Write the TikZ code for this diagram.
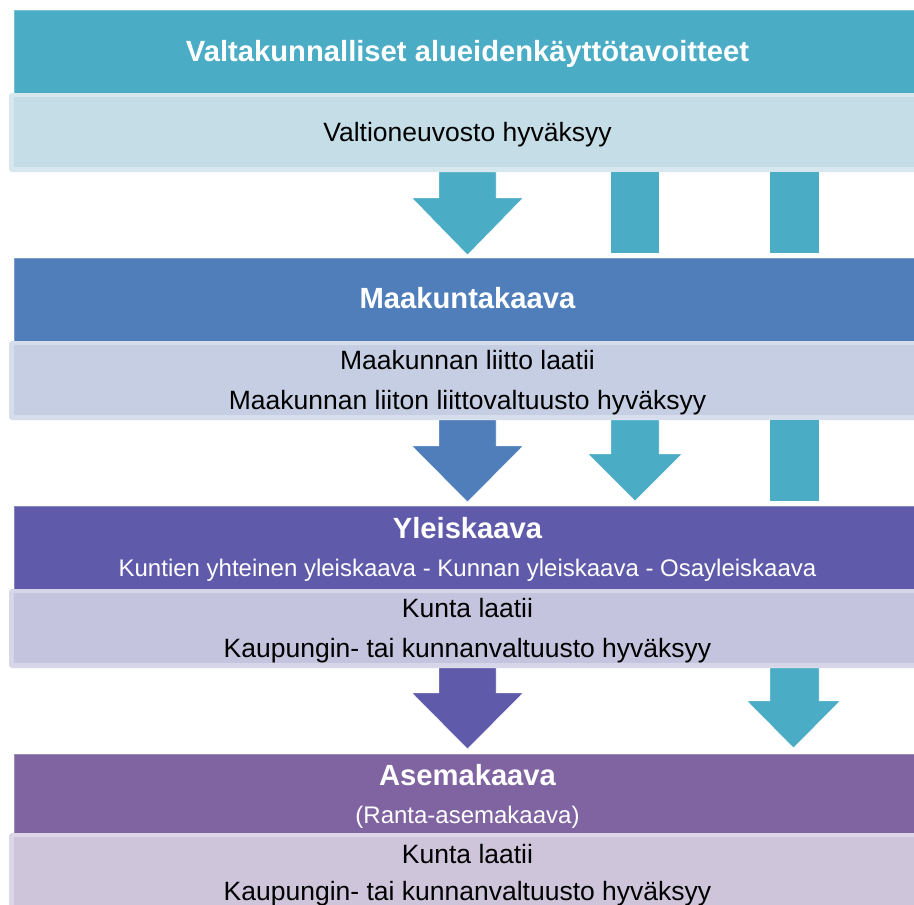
\documentclass[tikz,border=0pt]{standalone}
\usepackage{fontspec}
\setmainfont{Liberation Sans}
\definecolor{teal1}{HTML}{4BACC6}
\definecolor{blue1}{HTML}{4F7EBB}
\definecolor{purp1}{HTML}{5F5BAA}
\definecolor{viol1}{HTML}{8064A2}
\definecolor{sub1}{HTML}{C4DDE6}
\definecolor{sub2}{HTML}{C5CEE2}
\definecolor{sub3}{HTML}{C5C4DE}
\definecolor{sub4}{HTML}{CEC5DB}
\tikzset{
  hdtext/.style={anchor=base, inner sep=0pt, text=white, font=\fontsize{29.2}{35}\selectfont\bfseries},
  smtext/.style={anchor=base, inner sep=0pt, text=white, font=\fontsize{24}{29}\selectfont},
  sbtext/.style={anchor=base, inner sep=0pt, text=black, font=\fontsize{26.5}{32}\selectfont},
  blk/.style={draw=white, line width=0.4pt},
}
\newcommand{\subbox}[4]{% color, top, bottom, name
  \fill[#1!70!white, rounded corners=3pt] (9,#2) rectangle (930,#3);
  \node[fill=#1, inner sep=0pt, anchor=north west, minimum width=920pt, minimum height={#3-#2-9pt}] (#4) at (14,#2+4) {};
}
\newcommand{\hdbox}[4]{% color, top, bottom, name
  \node[fill=#1, draw=#1!75!white, line width=1pt, inner sep=0pt, anchor=north west, minimum width=920pt, minimum height={#3-#2}] (#4) at (14,#2) {};
}
\begin{document}
\begin{tikzpicture}[x=1pt, y=-1pt]
\useasboundingbox[fill=white] (0,0) rectangle (914,905);
% boxes
\hdbox{teal1}{10}{93}{h1}
\subbox{sub1}{93}{172}{s1}
\hdbox{blue1}{258}{341}{h2}
\subbox{sub2}{341}{420}{s2}
\hdbox{purp1}{506}{589}{h3}
\subbox{sub3}{589}{668}{s3}
\hdbox{viol1}{754}{833}{h4}
\subbox{sub4}{833}{912}{s4}
% row 1 arrows
\fill[teal1, blk] (439,172) -- (496,172) -- (496,198) -- (523,198) -- (467.5,255) -- (412,198) -- (439,198) -- cycle;
\fill[teal1] (611,172) rectangle (659,253);
\fill[teal1] (770,172) rectangle (819,253);
% row 2 arrows
\fill[blue1, blk] (439,420) -- (496,420) -- (496,446) -- (523,446) -- (467.5,502) -- (412,446) -- (439,446) -- cycle;
\fill[teal1, blk] (611,420) -- (659,420) -- (659,454) -- (682,454) -- (635,501) -- (588,454) -- (611,454) -- cycle;
\fill[teal1] (770,420) rectangle (819,501);
% row 3 arrows
\fill[purp1, blk] (439,668) -- (496,668) -- (496,693) -- (523,693) -- (467.5,749) -- (412,693) -- (439,693) -- cycle;
\fill[teal1, blk] (770,668) -- (819,668) -- (819,701) -- (840,701) -- (793.5,748) -- (747,701) -- (770,701) -- cycle;
% texts
\node[hdtext] (t1) at (467.5,61) {Valtakunnalliset alueidenkäyttötavoitteet};
\node[sbtext] (t2) at (467.5,141) {Valtioneuvosto hyväksyy};
\node[hdtext] (t3) at (467.5,308) {Maakuntakaava};
\node[sbtext] (t4) at (467.5,369) {Maakunnan liitto laatii};
\node[sbtext] (t5) at (467.5,409) {Maakunnan liiton liittovaltuusto hyväksyy};
\node[hdtext] (t6) at (467.5,538) {Yleiskaava};
\node[smtext] (t7) at (467.5,576) {Kuntien yhteinen yleiskaava - Kunnan yleiskaava - Osayleiskaava};
\node[sbtext] (t8) at (467.5,617) {Kunta laatii};
\node[sbtext] (t9) at (467.5,657) {Kaupungin- tai kunnanvaltuusto hyväksyy};
\node[hdtext] (t10) at (467.5,785) {Asemakaava};
\node[smtext] (t11) at (467.5,823) {(Ranta-asemakaava)};
\node[sbtext] (t12) at (467.5,863) {Kunta laatii};
\node[sbtext] (t13) at (467.5,900) {Kaupungin- tai kunnanvaltuusto hyväksyy};
\end{tikzpicture}
\end{document}
